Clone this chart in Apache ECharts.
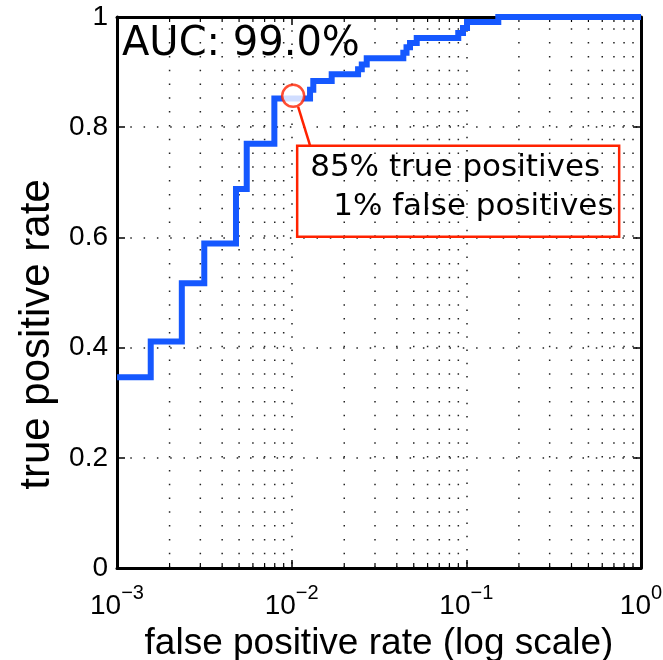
<!DOCTYPE html>
<html><head><meta charset="utf-8">
<script src="https://cdn.jsdelivr.net/npm/echarts@6/dist/echarts.min.js"></script>
<style>html,body{margin:0;padding:0;background:#fff}#c{width:663px;height:660px}</style>
</head><body><div id="c"></div>
<script>
// ROC curve steps: false positive rate where the curve jumps, and the new true positive rate
const fpr = [0.001, 0.00156, 0.00235, 0.00316, 0.0048, 0.00553, 0.00796, 0.01274, 0.0133, 0.01695, 0.0240, 0.0252, 0.0269, 0.04357, 0.04545, 0.0476, 0.0520, 0.0899, 0.0957, 0.1009, 0.1524, 1];
const tpr = [0.346, 0.411, 0.517, 0.589, 0.688, 0.770, 0.852, 0.868, 0.884, 0.896, 0.905, 0.914, 0.925, 0.935, 0.945, 0.953, 0.962, 0.971, 0.980, 0.991, 1.0, 1.0];
const xMajor = [0.001, 0.01, 0.1, 1];
const xMinor = [0.002,0.003,0.004,0.005,0.006,0.007,0.008,0.009,0.02,0.03,0.04,0.05,0.06,0.07,0.08,0.09,0.2,0.3,0.4,0.5,0.6,0.7,0.8,0.9];
const yTickLabels = ['0','0.2','0.4','0.6','0.8','1'];
const markerPoint = [0.0102, 0.857];
const aucText = 'AUC: 99.0%';
const noteLines = ['85% true positives', '1% false positives'];
const xName = 'false positive rate (log scale)';
const yName = 'true positive rate';

const BLUE = '#1558ff', RED = '#ff2200';
const dotted = {color: '#222', width: 1.5, type: [1.5, 11.8]};
const chart = echarts.init(document.getElementById('c'));

function axisBase(pos) {
  return {
    axisLine: {show: true, onZero: false, lineStyle: {color: '#000', width: 3}},
    axisTick: {show: true, inside: true, length: 8, lineStyle: {color: '#000', width: 1.5}},
    position: pos
  };
}

chart.setOption({
  animation: false,
  backgroundColor: '#fff',
  grid: {left: 117, right: 22, top: 17, bottom: 92, containLabel: false, outerBoundsMode: 'none'},
  xAxis: [
    Object.assign(axisBase('bottom'), {
      type: 'log', logBase: 10, min: 0.001, max: 1,
      splitLine: {show: true, lineStyle: dotted},
      axisLabel: {
        margin: 15,
        formatter: function (v) {
          const e = Math.round(Math.log10(v));
          return '{b|10}{s|' + (e < 0 ? '\u2212' + (-e) : e) + '}';
        },
        rich: {
          b: {fontSize: 28, fontFamily: 'Liberation Sans', color: '#000'},
          s: {fontSize: 20, fontFamily: 'Liberation Sans', color: '#000', padding: [0, 0, 26, 0]}
        }
      },
      name: xName, nameLocation: 'middle', nameGap: 56,
      nameTextStyle: {fontSize: 37, fontFamily: 'Liberation Sans', color: '#000'}
    }),
    Object.assign(axisBase('top'), {
      type: 'log', logBase: 10, min: 0.001, max: 1,
      axisLabel: {show: false}, splitLine: {show: false}
    })
  ],
  yAxis: [
    Object.assign(axisBase('left'), {
      type: 'value', min: 0, max: 1, interval: 0.2,
      splitLine: {show: true, lineStyle: dotted},
      axisLabel: {
        margin: 9, fontSize: 28, fontFamily: 'Liberation Sans', color: '#000',
        formatter: function (v) { return yTickLabels[Math.round(v * 5)]; }
      }
    }),
    Object.assign(axisBase('right'), {
      type: 'value', min: 0, max: 1, interval: 0.2,
      axisLabel: {show: false}, splitLine: {show: false}
    })
  ],
  series: [
    {
      type: 'custom', xAxisIndex: 0, yAxisIndex: 0, silent: true, z: 1, clip: false,
      data: xMinor.map(function (v) { return [v, 0]; }),
      renderItem: function (params, api) {
        const x = api.coord([api.value(0), 0])[0];
        const cs = params.coordSys;
        const b = cs.y + cs.height, t = cs.y;
        return {type: 'group', children: [
          {type: 'line', shape: {x1: x, y1: b, x2: x, y2: t}, style: {stroke: '#222', lineWidth: 1.5, lineDash: [1.5, 12.3]}},
          {type: 'line', shape: {x1: x, y1: b, x2: x, y2: b - 5}, style: {stroke: '#000', lineWidth: 1.2}},
          {type: 'line', shape: {x1: x, y1: t, x2: x, y2: t + 5}, style: {stroke: '#000', lineWidth: 1.2}}
        ]};
      }
    },
    {
      type: 'line', xAxisIndex: 0, yAxisIndex: 0, z: 3, step: 'end',
      showSymbol: false, symbol: 'none',
      data: fpr.map(function (x, i) { return [x, tpr[i]]; }),
      lineStyle: {color: BLUE, width: 6, join: 'miter'}
    },
    {
      type: 'scatter', xAxisIndex: 0, yAxisIndex: 0, z: 4,
      data: [markerPoint], symbol: 'circle', symbolSize: 22,
      itemStyle: {color: '#fff', borderColor: RED, borderWidth: 2.5}
    }
  ]
});

const p = chart.convertToPixel({xAxisIndex: 0, yAxisIndex: 0}, markerPoint);
const g0 = chart.convertToPixel({xAxisIndex: 0, yAxisIndex: 0}, [0.001, 1]);
const gB = chart.convertToPixel({xAxisIndex: 0, yAxisIndex: 0}, [0.001, 0]);
chart.setOption({
  graphic: [
    {type: 'text', x: g0[0] + 5, y: g0[1] + 27.5, z: 10,
     style: {text: aucText, font: '40px "DejaVu Sans"', fill: '#000', verticalAlign: 'middle', align: 'left'}},
    {type: 'text', x: 37, y: (g0[1] + gB[1]) / 2 + 42, rotation: Math.PI / 2, z: 10,
     style: {text: yName, font: '42px "Liberation Sans"', fill: '#000', verticalAlign: 'middle', align: 'center'}},
    {type: 'line', z: 10, shape: {x1: p[0] + 5, y1: p[1] + 11, x2: p[0] + 17, y2: p[1] + 50},
     style: {stroke: RED, lineWidth: 2.5}},
    {type: 'rect', z: 10, shape: {x: p[0] + 4, y: p[1] + 50, width: 322, height: 91},
     style: {stroke: RED, lineWidth: 2.5, fill: null}},
    {type: 'text', z: 10, x: p[0] + 17, y: p[1] + 72.5,
     style: {text: noteLines[0], font: '31px "DejaVu Sans"', fill: '#000', verticalAlign: 'middle', align: 'left'}},
    {type: 'text', z: 10, x: p[0] + 40, y: p[1] + 111,
     style: {text: noteLines[1], font: '31px "DejaVu Sans"', fill: '#000', verticalAlign: 'middle', align: 'left'}}
  ]
});
</script></body></html>
